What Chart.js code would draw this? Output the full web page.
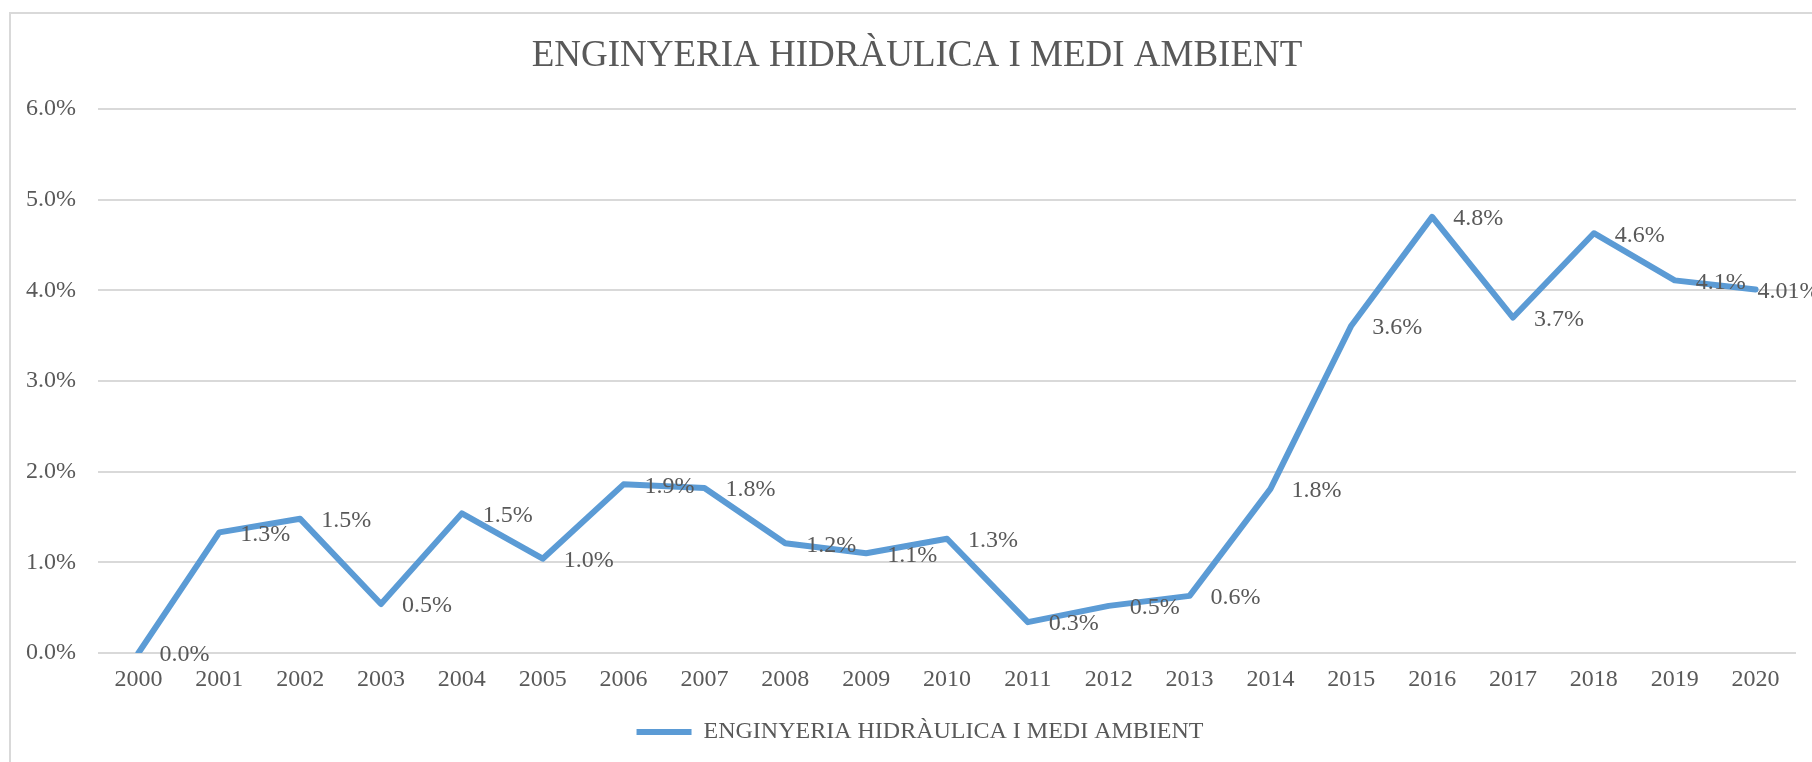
<!DOCTYPE html>
<html>
<head>
<meta charset="utf-8">
<script src="https://cdn.jsdelivr.net/npm/chart.js@4/dist/chart.umd.min.js"></script>
<style>
  html, body { margin: 0; padding: 0; background: #fff; }
  canvas { display: block; }
</style>
</head>
<body>
<canvas id="grafic" width="1812" height="762"></canvas>
<script>
// dades del gràfic (percentatges)
const anys = ['2000', '2001', '2002', '2003', '2004', '2005', '2006', '2007', '2008', '2009', '2010',
              '2011', '2012', '2013', '2014', '2015', '2016', '2017', '2018', '2019', '2020'];
const valors = [0.0, 1.33, 1.48, 0.54, 1.54, 1.04, 1.86, 1.82, 1.21, 1.10, 1.26,
                0.34, 0.52, 0.63, 1.81, 3.61, 4.81, 3.70, 4.63, 4.11, 4.01];
const decimals = [1, 1, 1, 1, 1, 1, 1, 1, 1, 1, 1, 1, 1, 1, 1, 1, 1, 1, 1, 1, 2];
const ticksY = [0, 1, 2, 3, 4, 5, 6];
const nomSerie = 'ENGINYERIA HIDRÀULICA I MEDI AMBIENT';
const titol = 'ENGINYERIA HIDRÀULICA I MEDI AMBIENT';

const font = "'Liberation Serif', 'Times New Roman', serif";
const gris = '#595959';
const blau = '#5B9BD5';

// fons, vora del quadre i títol (centrat sobre el quadre, no sobre l'àrea)
const vora = {
    id: 'vora',
    afterLayout(chart) {
        // la llegenda de l'Excel queda una mica més a la dreta
        chart.legend.left += 12;
        chart.legend.right += 12;
    },
    beforeDraw(chart) {
        const ctx = chart.ctx;
        ctx.save();
        ctx.fillStyle = '#fff';
        ctx.fillRect(0, 0, chart.width, chart.height);
        ctx.strokeStyle = '#D9D9D9';
        ctx.lineWidth = 2;
        ctx.strokeRect(10, 13, 1900, 900);
        ctx.font = '37px ' + font;
        ctx.fillStyle = gris;
        ctx.textAlign = 'center';
        ctx.textBaseline = 'middle';
        ctx.fillText(titol, 917, 56);
        ctx.restore();
    }
};

// etiquetes de dades a la dreta de cada punt
const etiquetes = {
    id: 'etiquetes',
    afterDatasetsDraw(chart) {
        const ctx = chart.ctx;
        const meta = chart.getDatasetMeta(0);
        ctx.save();
        ctx.font = '24px ' + font;
        ctx.fillStyle = gris;
        ctx.textAlign = 'left';
        ctx.textBaseline = 'middle';
        meta.data.forEach((pt, i) => {
            const txt = valors[i].toFixed(decimals[i]) + '%';
            let x = pt.x + 21;
            // si no hi cap, l'etiqueta s'enganxa al punt
            if (x + ctx.measureText(txt).width > chart.width) x = pt.x + 2;
            ctx.fillText(txt, x, pt.y + 2);
        });
        ctx.restore();
    }
};

new Chart(document.getElementById('grafic'), {
    type: 'line',
    data: {
        labels: anys,
        datasets: [{
            label: nomSerie,
            data: valors,
            borderColor: blau,
            backgroundColor: blau,
            borderWidth: 6,
            borderCapStyle: 'round',
            borderJoinStyle: 'round',
            pointRadius: 0,
            pointHoverRadius: 0,
            pointStyle: 'line',
            tension: 0
        }]
    },
    options: {
        responsive: false,
        animation: false,
        layout: { padding: { left: 20, right: 16, top: 109, bottom: 8 } },
        plugins: {
            title: { display: false },
            legend: {
                position: 'bottom',
                labels: {
                    usePointStyle: true,
                    pointStyleWidth: 55,
                    color: gris,
                    font: { family: font, size: 24 },
                    padding: 10
                }
            },
            tooltip: { enabled: false }
        },
        scales: {
            x: {
                offset: true,
                grid: { display: false, offset: true },
                border: { display: false },
                ticks: {
                    color: gris,
                    font: { family: font, size: 24 },
                    padding: 4,
                    autoSkip: false,
                    maxRotation: 0
                },
                afterFit(scale) { scale.height = 57; }
            },
            y: {
                min: 0,
                max: 6,
                afterBuildTicks(scale) { scale.ticks = ticksY.map(v => ({ value: v })); },
                grid: { color: '#D9D9D9', lineWidth: 2, drawTicks: false },
                border: { display: false },
                ticks: {
                    color: gris,
                    font: { family: font, size: 24 },
                    padding: 22,
                    callback: v => v.toFixed(1) + '%'
                },
                afterFit(scale) { scale.width = 78; }
            }
        }
    },
    plugins: [vora, etiquetes]
});
</script>
</body>
</html>
